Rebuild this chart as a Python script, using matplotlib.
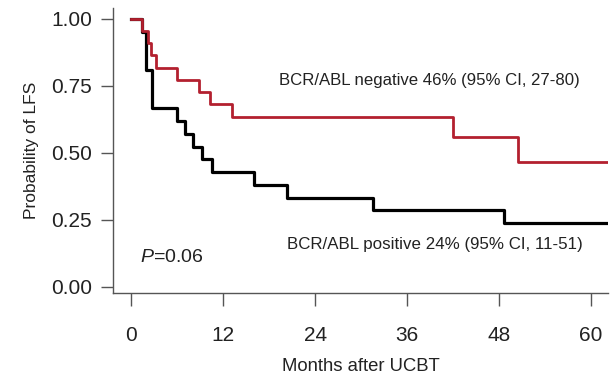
import matplotlib
matplotlib.use("Agg")
from matplotlib import pyplot as plt

plt.rcParams['font.family'] = ['Liberation Sans', 'DejaVu Sans']
plt.rcParams['mathtext.fontset'] = 'custom'
plt.rcParams['mathtext.it'] = 'Liberation Sans:italic'
plt.rcParams['mathtext.rm'] = 'Liberation Sans'

# Kaplan-Meier steps (months, probability)
neg_months = [0, 1.4, 2.2, 2.6, 3.3, 6.0, 8.8, 10.3, 13.2, 42.0, 50.4, 62.2]
neg_surv = [1.0, 0.955, 0.909, 0.864, 0.818, 0.773, 0.727, 0.682, 0.636, 0.56, 0.465, 0.465]
pos_months = [0, 1.4, 2.0, 2.7, 6.0, 7.0, 8.1, 9.3, 10.5, 16.1, 20.3, 31.5, 48.6, 62.2]
pos_surv = [1.0, 0.952, 0.81, 0.667, 0.619, 0.571, 0.524, 0.476, 0.429, 0.381, 0.333, 0.286, 0.24, 0.24]

x_ticks = [0, 12, 24, 36, 48, 60]
y_ticks = [0.0, 0.25, 0.5, 0.75, 1.0]
y_ticklabels = ['0.00', '0.25', '0.50', '0.75', '1.00']

red = '#b3202f'

fig = plt.figure(figsize=(6.13, 3.85), dpi=100)
ax = fig.add_axes([113 / 613, 92 / 385, 495 / 613, 285 / 385])

ax.step(neg_months, neg_surv, where='post', color=red, lw=2.0, zorder=3)
ax.step(pos_months, pos_surv, where='post', color='black', lw=2.3, zorder=2)

ax.set_xlim(-2.35, 62.2)
ax.set_ylim(-0.0224, 1.041)
ax.set_xticks(x_ticks)
ax.set_yticks(y_ticks)
ax.set_yticklabels(y_ticklabels)

for side in ['top', 'right']:
    ax.spines[side].set_visible(False)
for side in ['left', 'bottom']:
    ax.spines[side].set_color('#555555')
    ax.spines[side].set_linewidth(1.0)

ax.tick_params(axis='x', direction='out', length=9, width=1.0, color='#555555',
               labelsize=15, pad=15, labelcolor='#222222')
ax.tick_params(axis='y', direction='out', length=9, width=1.0, color='#555555',
               labelsize=15, pad=6, labelcolor='#222222')

ax.set_xlabel('Months after UCBT', fontsize=13.3, color='#222222', labelpad=9)
ax.set_ylabel('Probability of LFS', fontsize=12.5, color='#222222', labelpad=9)

ax.text(19.3, 0.77, 'BCR/ABL negative 46% (95% CI, 27-80)', fontsize=12.1, color='#222222',
        va='center', ha='left')
ax.text(20.35, 0.16, 'BCR/ABL positive 24% (95% CI, 11-51)', fontsize=12.2, color='#222222',
        va='center', ha='left')
ax.text(1.2, 0.11, r'$\it{P}$=0.06', fontsize=14, color='#222222', va='center', ha='left')

fig.savefig('out.png', dpi=100)
